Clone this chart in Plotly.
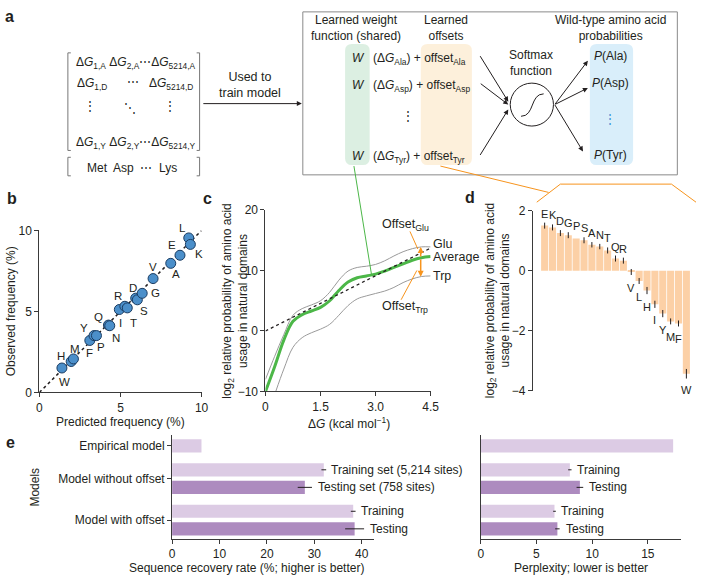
"""
Multi-panel figure: model schematic (a), predicted vs observed amino acid
frequencies (b), learned response curves (c), learned offsets (d) and model
comparison bars (e). Built with Plotly on a fixed pixel canvas.
"""

from __future__ import annotations

import numpy as np
import plotly.graph_objects as go

FIG_W, FIG_H = 706, 580
FONT = "Liberation Sans, Arial, Helvetica, sans-serif"
INK = "#231f20"
AXIS_INK = "#3a3a3a"
GREEN = "#4cb748"
ORANGE = "#f7941d"

# ---- panel b: predicted vs observed frequency (%) ----
aa_b = ["W", "H", "M", "F", "Y", "P", "Q", "N", "I", "R",
        "T", "D", "S", "G", "V", "A", "E", "L", "K"]
predicted_freq = [1.39, 1.96, 2.10, 3.11, 3.37, 3.52, 4.26, 4.34, 4.93, 5.27,
                  5.42, 5.94, 6.04, 6.34, 7.01, 8.10, 8.67, 9.21, 9.31]
observed_freq = [1.51, 1.91, 2.07, 3.21, 3.51, 3.51, 4.16, 4.12, 5.12, 5.32,
                 5.22, 5.82, 5.72, 6.12, 7.03, 7.97, 8.47, 9.54, 9.14]

# ---- panel c: learned curves (log2 relative probability vs dG) ----
dg_grid = [0, 0.25, 0.5, 0.75, 1.0, 1.25, 1.5, 1.75, 2.0, 2.25,
           2.5, 2.75, 3.0, 3.25, 3.5, 3.75, 4.0, 4.25, 4.5]
average_curve = [-10, -5.9, -1.5, 1.6, 2.7, 3.3, 3.9, 5.0, 6.7, 8.1,
                 8.8, 9.1, 9.4, 9.9, 10.5, 11.1, 11.7, 12.1, 12.3]
glu_curve = [-8.0, -4.2, -0.6, 2.6, 3.7, 4.3, 5.0, 6.4, 8.4, 9.9,
             10.5, 10.7, 11.0, 11.6, 12.4, 13.1, 13.6, 13.9, 13.9]
trp_dg = [0.28, 0.5, 0.75, 1.0, 1.25, 1.5, 1.75, 2.0, 2.25,
          2.5, 2.75, 3.0, 3.25, 3.5, 3.75, 4.0, 4.25, 4.5]
trp_curve = [-10, -6.3, -2.7, -1.1, -0.3, 0.3, 1.1, 2.6, 4.2,
             5.3, 5.8, 6.2, 6.6, 7.2, 8.0, 8.6, 9.0, 9.1]
linear_dg = [0, 4.5]
linear_fit = [0, 13.7]
offset_marker_dg = 4.23

# ---- panel d: learned offsets per amino acid ----
aa_d = ["E", "K", "D", "G", "P", "S", "A", "N", "T", "Q",
        "R", "V", "L", "H", "I", "Y", "M", "F", "W"]
offset_log2 = [1.51, 1.45, 1.26, 1.19, 1.08, 1.02, 0.87, 0.81, 0.68, 0.41,
               0.34, -0.04, -0.34, -0.66, -1.12, -1.43, -1.69, -1.76, -3.44]
offset_err = [0.10, 0.10, 0.10, 0.10, 0.0, 0.10, 0.09, 0.09, 0.10, 0.10,
              0.10, 0.10, 0.10, 0.12, 0.12, 0.12, 0.10, 0.10, 0.16]

# ---- panel e: model comparison ----
models = ["Empirical model", "Model without offset", "Model with offset"]
recovery_train = [6.2, 32.0, 38.2]
recovery_train_err = [0.0, 0.5, 0.5]
recovery_test = [None, 28.0, 38.5]
recovery_test_err = [0.0, 1.5, 2.0]
perplexity_train = [17.27, 8.0, 6.62]
perplexity_train_err = [0.0, 0.15, 0.12]
perplexity_test = [None, 8.9, 6.88]
perplexity_test_err = [0.0, 0.3, 0.2]
recovery_train_labels = [None, "Training set (5,214 sites)", "Training"]
recovery_test_labels = [None, "Testing set (758 sites)", "Testing"]
perplexity_train_labels = [None, "Training", "Training"]
perplexity_test_labels = [None, "Testing", "Testing"]

# label offsets (pixels, +y is up) for panel b, same order as aa_b
b_label_shift = [(3, -14), (-10, 6), (2, 10), (0, -13), (-10, 8), (5, -11),
                 (-10, 8), (6, -12), (1, -13), (-7, 10), (6, -15), (-3, 10),
                 (7, -11), (13, 0), (0, 12), (5, -11), (-8, 10), (-6, 10),
                 (9, -10)]


def paper_x(px: float) -> float:
    return px / FIG_W


def paper_y(py: float) -> float:
    return 1 - py / FIG_H


def pt(px: float, py: float) -> str:
    return f"{paper_x(px):.5f},{paper_y(py):.5f}"


def rounded_rect(x0, y0, x1, y1, r):
    return (f"M {pt(x0 + r, y0)} L {pt(x1 - r, y0)} Q {pt(x1, y0)} {pt(x1, y0 + r)} "
            f"L {pt(x1, y1 - r)} Q {pt(x1, y1)} {pt(x1 - r, y1)} "
            f"L {pt(x0 + r, y1)} Q {pt(x0, y1)} {pt(x0, y1 - r)} "
            f"L {pt(x0, y0 + r)} Q {pt(x0, y0)} {pt(x0 + r, y0)} Z")


def text(fig, x, y, s, size=12, xanchor="center", color=INK, angle=0, bold=False):
    fig.add_annotation(
        x=paper_x(x), y=paper_y(y), xref="paper", yref="paper", text=s,
        showarrow=False, xanchor=xanchor, yanchor="middle", textangle=angle,
        font=dict(size=size, color=color, family=FONT,
                  weight="bold" if bold else "normal"),
    )


def line(fig, x0, y0, x1, y1, color=INK, width=1):
    fig.add_shape(type="line", xref="paper", yref="paper",
                  x0=paper_x(x0), y0=paper_y(y0), x1=paper_x(x1), y1=paper_y(y1),
                  line=dict(color=color, width=width))


def arrow(fig, x0, y0, x1, y1, color=INK):
    fig.add_annotation(
        x=paper_x(x1), y=paper_y(y1), xref="paper", yref="paper", text="",
        showarrow=True, ax=x0 - x1, ay=y0 - y1, axref="pixel", ayref="pixel",
        arrowhead=2, arrowsize=1, arrowwidth=1, arrowcolor=color, standoff=0,
    )


def draw_schematic(fig: go.Figure) -> None:
    # matrix of dG values
    for x0, y0, y1, hook in [(66, 47, 147, 3), (200, 47, 147, -3),
                             (66, 154, 173, 3), (200, 154, 173, -3)]:
        fig.add_shape(type="path", xref="paper", yref="paper",
                      path=f"M {pt(x0 + hook, y0)} L {pt(x0, y0)} L {pt(x0, y1)} L {pt(x0 + hook, y1)}",
                      line=dict(color="#777777", width=1))
    dg = "Δ<i>G</i>"
    text(fig, 135, 57, f"{dg}<sub>1,A</sub> {dg}<sub>2,A</sub>⋯{dg}<sub>5214,A</sub>", 12)
    text(fig, 91, 79, f"{dg}<sub>1,D</sub>", 12)
    text(fig, 132, 77, "⋯", 12)
    text(fig, 171, 79, f"{dg}<sub>5214,D</sub>", 12)
    text(fig, 88, 101, "⋮", 12)
    text(fig, 129, 103, "⋱", 12)
    text(fig, 170, 101, "⋮", 12)
    text(fig, 135, 139, f"{dg}<sub>1,Y</sub> {dg}<sub>2,Y</sub>⋯{dg}<sub>5214,Y</sub>", 12)
    text(fig, 131, 165, "Met  Asp  ⋯  Lys", 12)

    text(fig, 251, 80, "Used to<br>train model", 12.5)
    arrow(fig, 204, 99, 304, 99)

    # model box
    fig.add_shape(type="rect", xref="paper", yref="paper",
                  x0=paper_x(305), x1=paper_x(686), y0=paper_y(5), y1=paper_y(172),
                  line=dict(color="#8a8a8a", width=1))
    for x0, x1, colour in [(348, 373, "#dcefe2"), (425, 477, "#fdf0db"),
                           (597, 641, "#d9eefa")]:
        fig.add_shape(type="path", xref="paper", yref="paper",
                      path=rounded_rect(x0, 38, x1, 162, 7),
                      fillcolor=colour, line=dict(width=0), layer="below")

    text(fig, 359, 22, "Learned weight<br>function (shared)", 12)
    text(fig, 451, 22, "Learned<br>offsets", 12)
    text(fig, 618, 22, "Wild-type amino acid<br>probabilities", 12)
    text(fig, 537, 57, "Softmax<br>function", 12)

    for y, aa in [(52, "Ala"), (80, "Asp"), (153, "Tyr")]:
        text(fig, 362, y, "<i>W</i>", 12)
        text(fig, 374, y + 1, f"(Δ<i>G</i><sub>{aa}</sub>) + offset<sub>{aa}</sub>",
             12, xanchor="left")
    text(fig, 412, 112, "⋮", 12)
    for y, aa in [(50, "Ala"), (78, "Asp"), (152, "Tyr")]:
        text(fig, 618, y, f"<i>P</i>({aa})", 12)
    text(fig, 618, 115, "⋮", 12, color="#3b8fd6")

    fig.add_shape(type="circle", xref="paper", yref="paper",
                  x0=paper_x(516), x1=paper_x(560), y0=paper_y(122), y1=paper_y(78),
                  line=dict(color=INK, width=1))
    fig.add_shape(type="path", xref="paper", yref="paper",
                  path=f"M {pt(527, 112)} C {pt(541, 112)} {pt(536, 89)} {pt(550, 89)}",
                  line=dict(color=INK, width=1))
    for y0, y1 in [(50, 97), (78, 100), (152, 105)]:
        arrow(fig, 485, y0, 514, y1)
    for y1, x1 in [(55, 595), (83, 595), (148, 590)]:
        arrow(fig, 561, 100, x1, y1)

    # connectors to panels c and d
    line(fig, 357, 163, 375, 275, color=GREEN)
    line(fig, 445, 163, 555, 190, color=ORANGE)
    fig.add_shape(type="path", xref="paper", yref="paper",
                  path=f"M {pt(543, 200)} L {pt(567, 181.5)} L {pt(680, 181.5)} L {pt(705, 200)}",
                  line=dict(color=ORANGE, width=1))


def axis_style(**extra) -> dict:
    style = dict(showline=True, linecolor=AXIS_INK, linewidth=1, ticks="outside",
                 ticklen=4, tickcolor=AXIS_INK, tickfont=dict(size=12, color=INK),
                 showgrid=False, zeroline=False, fixedrange=True)
    style.update(extra)
    return style


def build_figure() -> go.Figure:
    fig = go.Figure()

    # ---- b ----
    fig.add_trace(go.Scatter(x=[0, 10], y=[0, 10], mode="lines",
                             line=dict(color=INK, width=1.5, dash="dot"),
                             xaxis="x", yaxis="y", hoverinfo="skip"))
    fig.add_trace(go.Scatter(x=predicted_freq, y=observed_freq, mode="markers",
                             marker=dict(size=10, color="#4b8fca",
                                         line=dict(color="#1b3d63", width=1)),
                             xaxis="x", yaxis="y", cliponaxis=False))
    for aa, xv, yv, (dx, dy) in zip(aa_b, predicted_freq, observed_freq, b_label_shift):
        fig.add_annotation(x=xv, y=yv, xref="x", yref="y", text=aa, showarrow=False,
                           xshift=dx, yshift=dy, font=dict(size=11.5, color=INK, family=FONT))

    # ---- c ----
    fig.add_trace(go.Scatter(x=dg_grid, y=glu_curve, mode="lines", line_shape="spline",
                             line=dict(color="#9a9a9a", width=1), xaxis="x2", yaxis="y2"))
    fig.add_trace(go.Scatter(x=trp_dg, y=trp_curve, mode="lines", line_shape="spline",
                             line=dict(color="#9a9a9a", width=1), xaxis="x2", yaxis="y2"))
    fig.add_trace(go.Scatter(x=dg_grid, y=average_curve, mode="lines", line_shape="spline",
                             line=dict(color=GREEN, width=3), xaxis="x2", yaxis="y2",
                             cliponaxis=False))
    fig.add_trace(go.Scatter(x=linear_dg, y=linear_fit, mode="lines",
                             line=dict(color=INK, width=1.3, dash="3px,3px"),
                             xaxis="x2", yaxis="y2"))
    avg_at = float(np.interp(offset_marker_dg, dg_grid, average_curve))
    glu_at = float(np.interp(offset_marker_dg, dg_grid, glu_curve))
    trp_at = float(np.interp(offset_marker_dg, trp_dg, trp_curve))
    for target in (glu_at, trp_at):
        fig.add_annotation(x=offset_marker_dg, y=target, xref="x2", yref="y2",
                           ax=offset_marker_dg, ay=avg_at, axref="x2", ayref="y2",
                           text="", showarrow=True, arrowhead=2, arrowsize=0.8,
                           arrowwidth=1.5, arrowcolor=ORANGE, standoff=0)
    for label, yv, lift in [("Glu", glu_curve[-1], 3), ("Average", average_curve[-1], 0),
                            ("Trp", trp_curve[-1], 0)]:
        fig.add_annotation(x=4.5, y=yv, xref="x2", yref="y2", text=label, showarrow=False,
                           xanchor="left", yshift=lift,
                           font=dict(size=12.5, color=INK, family=FONT))

    # ---- d ----
    fig.add_trace(go.Bar(x=aa_d, y=offset_log2, marker=dict(color="#fcd0a6", line=dict(width=0)),
                         error_y=dict(type="data", array=offset_err, color=INK,
                                      thickness=1, width=0),
                         xaxis="x3", yaxis="y3"))
    for aa, v in zip(aa_d, offset_log2):
        fig.add_annotation(x=aa, y=v, xref="x3", yref="y3", text=aa, showarrow=False,
                           yshift=12 if v > 0 else -16,
                           font=dict(size=11, color=INK, family=FONT))

    # ---- e: bar rows ----
    bar_h, inner_gap, group_gap, top_pad = 13.5, 4.5, 11.0, 4.0
    train_pos, test_pos, group_pos = [], [], []
    cursor = top_pad
    for test_value in recovery_test:
        start = cursor
        train_pos.append(cursor + bar_h / 2)
        cursor += bar_h
        if test_value is not None:
            cursor += inner_gap
            test_pos.append(cursor + bar_h / 2)
            cursor += bar_h
        else:
            test_pos.append(None)
        group_pos.append((start + cursor) / 2)
        cursor += group_gap

    def add_rows(xa, ya, train, train_err, test, test_err, train_lab, test_lab):
        tests = [(p, v, e, lab) for p, v, e, lab in zip(test_pos, test, test_err, test_lab)
                 if v is not None]
        fig.add_trace(go.Bar(y=train_pos, x=train, orientation="h", width=bar_h,
                             marker=dict(color="#dccbe4", line=dict(width=0)),
                             error_x=dict(type="data", array=train_err, color=INK,
                                          thickness=1, width=0),
                             xaxis=xa, yaxis=ya))
        fig.add_trace(go.Bar(y=[t[0] for t in tests], x=[t[1] for t in tests],
                             orientation="h", width=bar_h,
                             marker=dict(color="#ad8bbf", line=dict(width=0)),
                             error_x=dict(type="data", array=[t[2] for t in tests],
                                          color=INK, thickness=1, width=0),
                             xaxis=xa, yaxis=ya))
        for p, v, e, lab in zip(train_pos, train, train_err, train_lab):
            if lab:
                fig.add_annotation(x=v + e, y=p, xref=xa, yref=ya, text=lab,
                                   showarrow=False, xanchor="left", xshift=3,
                                   font=dict(size=12, color=INK, family=FONT))
        for p, v, e, lab in tests:
            fig.add_annotation(x=v + e, y=p, xref=xa, yref=ya, text=lab,
                               showarrow=False, xanchor="left", xshift=4,
                               font=dict(size=12, color=INK, family=FONT))

    add_rows("x4", "y4", recovery_train, recovery_train_err, recovery_test,
             recovery_test_err, recovery_train_labels, recovery_test_labels)
    add_rows("x5", "y5", perplexity_train, perplexity_train_err, perplexity_test,
             perplexity_test_err, perplexity_train_labels, perplexity_test_labels)

    e_range = [106, 0]
    fig.update_layout(
        width=FIG_W, height=FIG_H, margin=dict(l=0, r=0, t=0, b=0),
        paper_bgcolor="white", plot_bgcolor="white", showlegend=False,
        font=dict(family=FONT, color=INK, size=12), barmode="overlay", bargap=0.1,
        xaxis=axis_style(domain=[paper_x(37), paper_x(202)], range=[0, 10],
                         tickvals=[0, 5, 10], anchor="y"),
        yaxis=axis_style(domain=[paper_y(395), paper_y(229)], range=[0, 10],
                         tickvals=[0, 5, 10], anchor="x"),
        xaxis2=axis_style(domain=[paper_x(267), paper_x(435)], range=[0, 4.5],
                          tickvals=[0, 1.5, 3.0, 4.5], ticktext=["0", "1.5", "3.0", "4.5"],
                          anchor="y2"),
        yaxis2=axis_style(domain=[paper_y(394), paper_y(208)], range=[-10, 20],
                          tickvals=[-10, 0, 10, 20], anchor="x2"),
        xaxis3=dict(domain=[paper_x(539), paper_x(700)], range=[-1.5, 18.6],
                    showline=False, showticklabels=False, ticks="", showgrid=False,
                    zeroline=False, anchor="y3", fixedrange=True),
        yaxis3=axis_style(domain=[paper_y(393), paper_y(209)], range=[-4, 2],
                          tickvals=[-4, -2, 0, 2], anchor="x3"),
        xaxis4=axis_style(domain=[paper_x(172), paper_x(377)], range=[0, 42.5],
                          tickvals=[0, 10, 20, 30, 40], anchor="y4"),
        yaxis4=axis_style(domain=[paper_y(545), paper_y(439)], range=e_range,
                          tickvals=group_pos, ticktext=models, anchor="x4"),
        xaxis5=axis_style(domain=[paper_x(486), paper_x(690)], range=[0, 18],
                          tickvals=[0, 5, 10, 15], anchor="y5"),
        yaxis5=axis_style(domain=[paper_y(545), paper_y(439)], range=e_range,
                          ticks="", showticklabels=False, anchor="x5"),
    )

    draw_schematic(fig)

    # axis titles and annotations placed on the canvas
    text(fig, 120, 425, "Predicted frequency (%)")
    text(fig, 9, 312, "Observed frequency (%)", angle=-90)
    text(fig, 352, 426, "Δ<i>G</i> (kcal mol<sup>−1</sup>)")
    ytitle = "log<sub>2</sub> relative probability of amino acid<br>usage in natural domains"
    text(fig, 236, 301, ytitle, angle=-90)
    text(fig, 503, 301, ytitle, angle=-90)
    text(fig, 248, 575, "Sequence recovery rate (%; higher is better)")
    text(fig, 588, 575, "Perplexity; lower is better")
    text(fig, 33, 492, "Models", angle=-90)

    text(fig, 409, 223, "Offset<sub>Glu</sub>", 12.5)
    text(fig, 409, 307, "Offset<sub>Trp</sub>", 12.5)
    line(fig, 414, 230, 422, 248, color=ORANGE)
    line(fig, 405, 300, 421, 270, color=ORANGE)

    for letter, x, y in [("a", 7, 10), ("b", 9, 196), ("c", 208, 196),
                         ("d", 475, 195), ("e", 8, 446)]:
        text(fig, x, y, letter, 16, bold=True)

    return fig


def main() -> None:
    fig = build_figure()
    # the page body has a default 8px margin; drop it so the canvas sits at 0,0
    fig.write_html("out.html", config={"displayModeBar": False},
                   post_script="document.body.style.margin = '0';")


if __name__ == "__main__":
    main()
